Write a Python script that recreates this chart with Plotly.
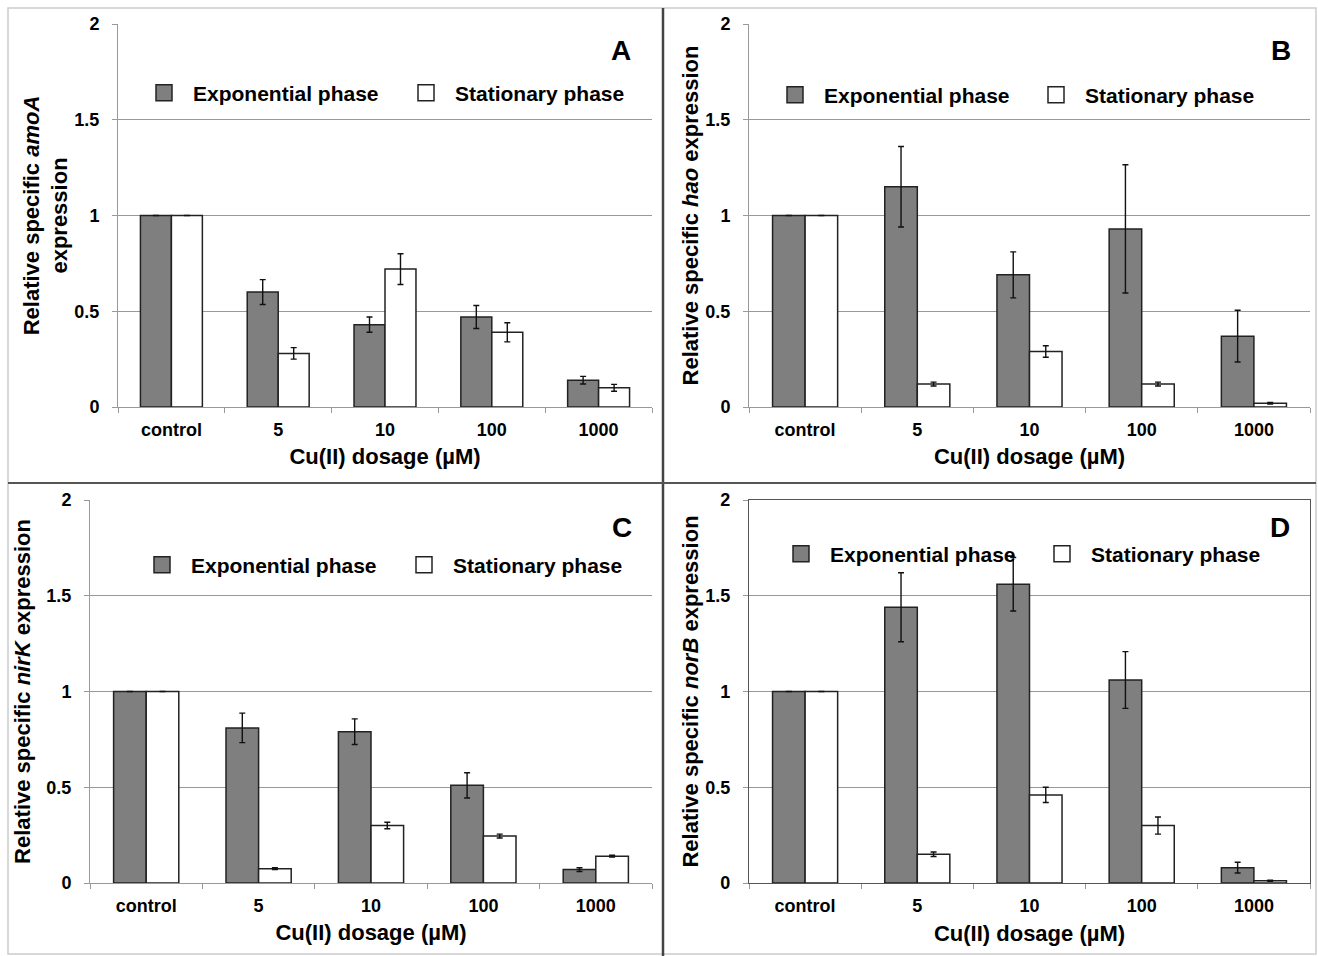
import plotly.graph_objects as go

# ---------------- data ----------------
categories = ["control", "5", "10", "100", "1000"]

amoA_exp = [1.0, 0.60, 0.43, 0.47, 0.14]
amoA_exp_err = [0.0, 0.065, 0.04, 0.06, 0.02]
amoA_sta = [1.0, 0.28, 0.72, 0.39, 0.10]
amoA_sta_err = [0.0, 0.03, 0.08, 0.05, 0.018]

hao_exp = [1.0, 1.15, 0.69, 0.93, 0.37]
hao_exp_err = [0.0, 0.21, 0.12, 0.335, 0.135]
hao_sta = [1.0, 0.12, 0.29, 0.12, 0.02]
hao_sta_err = [0.0, 0.01, 0.03, 0.01, 0.004]

nirK_exp = [1.0, 0.81, 0.79, 0.51, 0.07]
nirK_exp_err = [0.0, 0.077, 0.067, 0.066, 0.01]
nirK_sta = [1.0, 0.075, 0.30, 0.245, 0.14]
nirK_sta_err = [0.0, 0.005, 0.017, 0.01, 0.005]

norB_exp = [1.0, 1.44, 1.56, 1.06, 0.08]
norB_exp_err = [0.0, 0.18, 0.14, 0.148, 0.028]
norB_sta = [1.0, 0.15, 0.46, 0.30, 0.012]
norB_sta_err = [0.0, 0.012, 0.04, 0.045, 0.003]

series_names = ["Exponential phase", "Stationary phase"]
panel_letters = ["A", "B", "C", "D"]
y_titles = [
    "Relative specific <i>amoA</i><br>expression",
    "Relative specific <i>hao</i> expression",
    "Relative specific <i>nirK</i> expression",
    "Relative specific <i>norB</i> expression",
]
x_title = "Cu(II) dosage (\u00b5M)"
y_tickvals = [0, 0.5, 1, 1.5, 2]
y_ticktext = ["0", "0.5", "1", "1.5", "2"]

panels = [
    (amoA_exp, amoA_exp_err, amoA_sta, amoA_sta_err),
    (hao_exp, hao_exp_err, hao_sta, hao_sta_err),
    (nirK_exp, nirK_exp_err, nirK_sta, nirK_sta_err),
    (norB_exp, norB_exp_err, norB_sta, norB_sta_err),
]

# ---------------- layout geometry (pixels) ----------------
W, H = 1318, 956
FONT = "Liberation Sans, Arial, sans-serif"
DARK = "#7f7f7f"
EDGE = "#222222"
GRID = "#999999"

# plot area pixel boxes: (left, right, top, bottom)
boxes = [
    (118, 652, 24, 407),
    (749, 1310, 24, 407),
    (90, 652, 500, 883),
    (749, 1310, 500, 883),
]
# legend square centres (x) and legend y centre
legend_pos = [
    ((164, 426), 93),
    ((795, 1056), 95),
    ((162, 424), 565),
    ((801, 1062), 554),
]
letter_pos = [(621, 50), (1281, 50), (622, 527), (1280, 527)]
ytitle_standoff = [0, 0, 9, 0]


def px_x(v):
    return v / W


def px_y(v):
    return 1 - v / H


fig = go.Figure()
layout = dict(
    width=W, height=H,
    margin=dict(l=0, r=0, t=0, b=0, pad=0, autoexpand=False),
    paper_bgcolor="white", plot_bgcolor="white",
    barmode="group", bargap=0.42, bargroupgap=0.0,
    showlegend=True,
    font=dict(family=FONT, color="black"),
)

annotations = []
shapes = []

for i, (exp, exp_err, sta, sta_err) in enumerate(panels):
    n = "" if i == 0 else str(i + 1)
    xa, ya = "x" + n, "y" + n
    l, r, t, b = boxes[i]
    mirror = (i == 3)

    err_style = dict(type="data", visible=True, color="#111111", thickness=1.4, width=3)
    fig.add_trace(go.Bar(
        x=categories, y=exp, xaxis=xa, yaxis=ya, name=series_names[0],
        marker=dict(color=DARK, line=dict(color=EDGE, width=1.5)),
        error_y=dict(array=exp_err, **err_style), showlegend=False,
        offsetgroup="exp",
    ))
    fig.add_trace(go.Bar(
        x=categories, y=sta, xaxis=xa, yaxis=ya, name=series_names[1],
        marker=dict(color="white", line=dict(color=EDGE, width=1.5)),
        error_y=dict(array=sta_err, **err_style), showlegend=False,
        offsetgroup="sta",
    ))

    # legend proxies, each in its own legend box
    (cx1, cx2), cy = legend_pos[i]
    for j, cx in enumerate([cx1, cx2]):
        lg_idx = 2 * i + j + 1
        lg_name = "legend" if lg_idx == 1 else "legend%d" % lg_idx
        fig.add_trace(go.Scatter(
            x=[None], y=[None], xaxis=xa, yaxis=ya, mode="markers",
            name=series_names[j], legend=lg_name,
            marker=dict(symbol="square", size=16, color=DARK if j == 0 else "white",
                        line=dict(color=EDGE, width=1.5)),
        ))
        layout[lg_name] = dict(
            x=px_x(cx - 29), y=px_y(cy), xanchor="left", yanchor="middle",
            orientation="h", bgcolor="rgba(0,0,0,0)", borderwidth=0,
            itemwidth=48,
            font=dict(family=FONT, size=21, color="black", weight="bold"),
        )

    layout["xaxis" + n] = dict(
        domain=[px_x(l), px_x(r)], anchor=ya, type="category",
        showline=True, linecolor="#555555" if mirror else GRID, linewidth=1.3 if mirror else 1,
        mirror=mirror, ticks="outside", tickson="boundaries", ticklen=5, tickcolor=GRID,
        showgrid=False, zeroline=False, fixedrange=True, automargin=False,
        tickfont=dict(family=FONT, size=18, color="black", weight="bold"),
        ticklabelstandoff=6,
        title=dict(text=x_title, standoff=10,
                   font=dict(family=FONT, size=22, color="black", weight="bold")),
    )
    layout["yaxis" + n] = dict(
        domain=[px_y(b), px_y(t)], anchor=xa, range=[0, 2],
        tickvals=y_tickvals, ticktext=y_ticktext,
        showline=True, linecolor="#555555" if mirror else GRID, linewidth=1.3 if mirror else 1,
        mirror=mirror, ticks="outside", ticklen=5, tickcolor=GRID,
        showgrid=True, gridcolor=GRID, gridwidth=1, zeroline=False, fixedrange=True,
        automargin=False,
        tickfont=dict(family=FONT, size=18, color="black", weight="bold"),
        ticklabelstandoff=9,
        title=dict(text=y_titles[i], standoff=ytitle_standoff[i],
                   font=dict(family=FONT, size=22, color="black", weight="bold")),
    )

    lx, ly = letter_pos[i]
    annotations.append(dict(
        text=panel_letters[i], x=px_x(lx), y=px_y(ly), xref="paper", yref="paper",
        showarrow=False, xanchor="center", yanchor="middle",
        font=dict(family=FONT, size=28, color="black", weight="bold"),
    ))

# panel frame lines
shapes.append(dict(type="rect", xref="paper", yref="paper",
                   x0=px_x(8), x1=px_x(1316), y0=px_y(954), y1=px_y(8),
                   line=dict(color="#cccccc", width=1.5), layer="below"))
shapes.append(dict(type="line", xref="paper", yref="paper",
                   x0=px_x(663), x1=px_x(663), y0=0, y1=px_y(8),
                   line=dict(color="#444444", width=2.5)))
shapes.append(dict(type="line", xref="paper", yref="paper",
                   x0=px_x(8), x1=px_x(1316), y0=px_y(483), y1=px_y(483),
                   line=dict(color="#555555", width=2)))

layout["annotations"] = annotations
layout["shapes"] = shapes
fig.update_layout(**layout)

fig.write_html("out.html", config={"displayModeBar": False},
               post_script="document.body.style.margin='0px';")
